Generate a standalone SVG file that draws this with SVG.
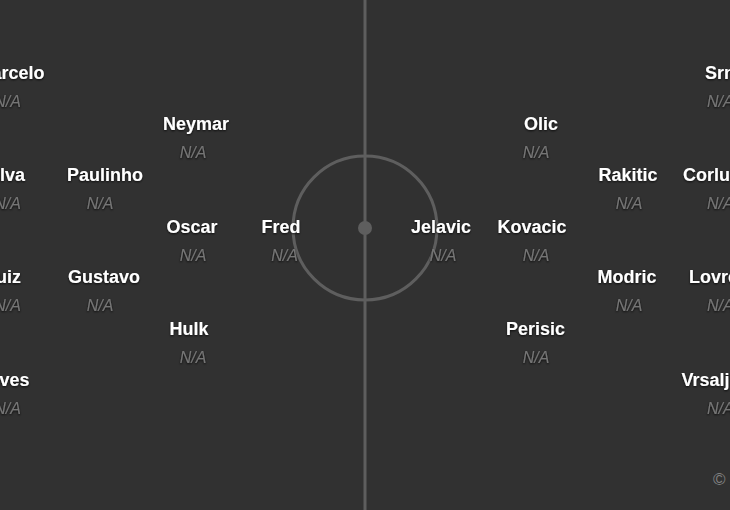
<svg xmlns="http://www.w3.org/2000/svg" width="730" height="510" viewBox="0 0 730 510">
<style>
.bg{fill:#313131}
.ln{fill:none;stroke:#5e5e5e;stroke-width:3}
.nm{font-family:"Liberation Sans",Arial,sans-serif;font-weight:bold;font-size:18px;fill:#ffffff;text-anchor:middle}
.na{font-family:"Liberation Sans",Arial,sans-serif;font-style:italic;font-size:16px;fill:#757575;text-anchor:middle}
.s{text-anchor:start}
.e{text-anchor:end}
</style>
<defs>
<filter id="sh" x="-10%" y="-30%" width="120%" height="160%">
<feDropShadow dx="0" dy="1" stdDeviation="0.8" flood-color="#000" flood-opacity="0.8"/>
</filter>
</defs>
<rect class="bg" x="0" y="0" width="730" height="510"/>
<g id="pitch">
<line class="ln" x1="365" y1="0" x2="365" y2="510"/>
<circle class="ln" cx="365" cy="228" r="72"/>
<circle cx="365" cy="228" r="7" fill="#5e5e5e"/>
</g>
<g id="connectors"></g>
<g filter="url(#sh)">
<g id="marcelo"><text class="nm e" x="44.5" y="79">Marcelo</text><text class="na" x="7.5" y="107">N/A</text></g>
<g id="silva"><text class="nm e" x="25" y="181">Silva</text><text class="na" x="7.5" y="209">N/A</text></g>
<g id="luiz"><text class="nm e" x="21" y="283">Luiz</text><text class="na" x="7.5" y="311">N/A</text></g>
<g id="alves"><text class="nm e" x="29.5" y="386">Alves</text><text class="na" x="7.5" y="414">N/A</text></g>
<g id="paulinho"><text class="nm" x="105" y="181">Paulinho</text><text class="na" x="100" y="209">N/A</text></g>
<g id="gustavo"><text class="nm" x="104" y="283">Gustavo</text><text class="na" x="100" y="311">N/A</text></g>
<g id="neymar"><text class="nm" x="196" y="130">Neymar</text><text class="na" x="193" y="158">N/A</text></g>
<g id="oscar"><text class="nm" x="192" y="233">Oscar</text><text class="na" x="193" y="261">N/A</text></g>
<g id="hulk"><text class="nm" x="189" y="335">Hulk</text><text class="na" x="193" y="363">N/A</text></g>
<g id="fred"><text class="nm" x="281" y="233">Fred</text><text class="na" x="284.5" y="261">N/A</text></g>
<g id="jelavic"><text class="nm" x="441" y="233">Jelavic</text><text class="na" x="443" y="261">N/A</text></g>
<g id="olic"><text class="nm" x="541" y="130">Olic</text><text class="na" x="536" y="158">N/A</text></g>
<g id="kovacic"><text class="nm" x="532" y="233">Kovacic</text><text class="na" x="536" y="261">N/A</text></g>
<g id="perisic"><text class="nm" x="535.5" y="335">Perisic</text><text class="na" x="536" y="363">N/A</text></g>
<g id="rakitic"><text class="nm" x="628" y="181">Rakitic</text><text class="na" x="629" y="209">N/A</text></g>
<g id="modric"><text class="nm" x="627" y="283">Modric</text><text class="na" x="629" y="311">N/A</text></g>
<g id="srna"><text class="nm s" x="705" y="79">Srna</text><text class="na s" x="707" y="107">N/A</text></g>
<g id="corluka"><text class="nm s" x="683" y="181">Corluka</text><text class="na s" x="707" y="209">N/A</text></g>
<g id="lovren"><text class="nm s" x="689" y="283">Lovren</text><text class="na s" x="707" y="311">N/A</text></g>
<g id="vrsaljko"><text class="nm s" x="681.5" y="386">Vrsaljko</text><text class="na s" x="707" y="414">N/A</text></g>
</g>
<g id="credit"><text x="713" y="485" font-family="Liberation Sans,Arial,sans-serif" font-size="17" fill="#808080">©</text></g>
</svg>
